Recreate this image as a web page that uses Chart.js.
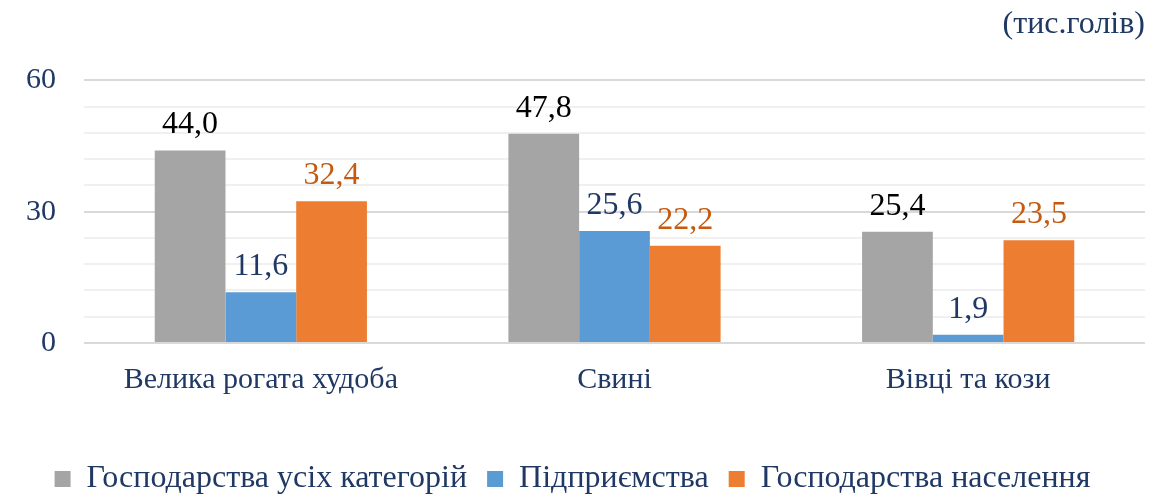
<!DOCTYPE html>
<html>
<head>
<meta charset="utf-8">
<script src="https://cdn.jsdelivr.net/npm/chart.js@4"></script>
<style>
  html, body { margin: 0; padding: 0; background: #fff; }
  #wrap { width: 1168px; height: 495px; position: relative; }
</style>
</head>
<body>
<div id="wrap"><canvas id="chart"></canvas></div>
<script>
// chart data
var categories = ['Велика рогата худоба', 'Свині', 'Вівці та кози'];
var seriesNames = ['Господарства усіх категорій', 'Підприємства', 'Господарства населення'];
var allFarms = [44.0, 47.8, 25.4];
var enterprises = [11.6, 25.6, 1.9];
var households = [32.4, 22.2, 23.5];
var yTickLabels = [0, 30, 60];
var unitLabel = '(тис.голів)';

var NAVY = '#1f3864';
var FONT = "'Liberation Serif', 'Times New Roman', serif";

// value labels drawn above each bar
var valueLabels = {
    id: 'valueLabels',
    afterDatasetsDraw: function (chart) {
        var ctx = chart.ctx;
        ctx.save();
        ctx.font = '32px ' + FONT;
        ctx.textAlign = 'center';
        ctx.textBaseline = 'alphabetic';
        chart.data.datasets.forEach(function (ds, i) {
            var meta = chart.getDatasetMeta(i);
            ctx.fillStyle = ds.labelColor;
            meta.data.forEach(function (bar, j) {
                var txt = ds.data[j].toFixed(1).replace('.', ',');
                ctx.fillText(txt, bar.x, bar.y - 17);
            });
        });
        ctx.restore();
    }
};

new Chart(document.getElementById('chart'), {
    type: 'bar',
    data: {
        labels: categories,
        datasets: [
            { label: seriesNames[0], data: allFarms, backgroundColor: '#a5a5a5', labelColor: '#000000' },
            { label: seriesNames[1], data: enterprises, backgroundColor: '#5b9bd5', labelColor: NAVY },
            { label: seriesNames[2], data: households, backgroundColor: '#ed7d31', labelColor: '#c55a11' }
        ]
    },
    options: {
        responsive: true,
        maintainAspectRatio: false,
        animation: false,
        datasets: { bar: { categoryPercentage: 0.6, barPercentage: 1.0 } },
        layout: { padding: { left: 0, right: 23, top: 0, bottom: -10 } },
        scales: {
            x: {
                grid: { display: false },
                border: { display: false },
                ticks: { color: NAVY, font: { family: FONT, size: 30 }, padding: 11 },
                afterFit: function (s) {
                    s.paddingLeft = 0;
                    s.paddingRight = 0;
                    s.height = 100;
                }
            },
            y: {
                min: 0,
                max: 60,
                border: { display: false },
                grid: {
                    drawTicks: false,
                    color: function (c) {
                        return yTickLabels.indexOf(c.tick.value) >= 0 ? '#d9d9d9' : '#f0f0f0';
                    },
                    lineWidth: 2
                },
                ticks: {
                    stepSize: 6,
                    autoSkip: false,
                    padding: 28,
                    color: NAVY,
                    font: { family: FONT, size: 30 },
                    callback: function (v) { return yTickLabels.indexOf(v) >= 0 ? v : ''; }
                },
                afterFit: function (s) { s.width = 84; }
            }
        },
        plugins: {
            title: {
                display: true,
                text: unitLabel,
                align: 'end',
                color: NAVY,
                font: { family: FONT, size: 32, weight: 'normal' },
                padding: { top: 5, bottom: 37 }
            },
            legend: {
                position: 'bottom',
                labels: {
                    color: NAVY,
                    font: { family: FONT, size: 32 },
                    boxWidth: 16,
                    boxHeight: 16,
                    padding: 20
                }
            },
            tooltip: { enabled: false }
        }
    },
    plugins: [valueLabels]
});
</script>
</body>
</html>
